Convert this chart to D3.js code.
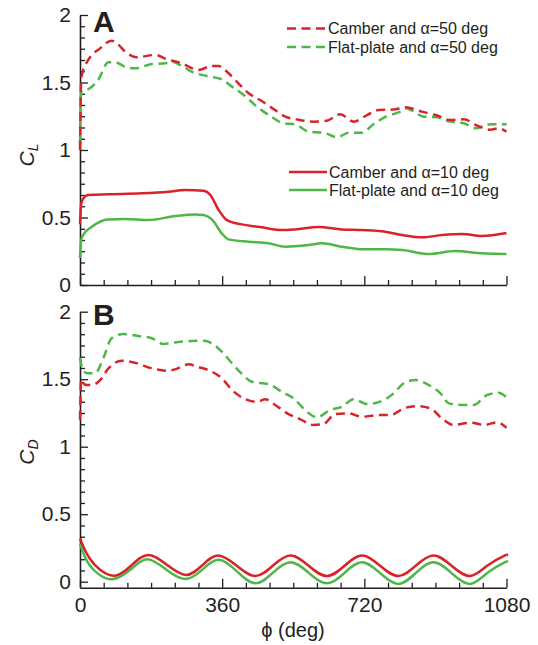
<!DOCTYPE html>
<html>
<head>
<meta charset="utf-8">
<script src="https://cdn.jsdelivr.net/npm/d3@7"></script>
<style>
  html, body { margin: 0; padding: 0; background: #fff; }
  svg { display: block; }
  text { font-family: "Liberation Sans", Arial, Helvetica, sans-serif; fill: #231f20; }
</style>
</head>
<body>
<svg id="chart" width="538" height="645"></svg>
<script>
// Lift coefficient, alpha = 50 deg (phi in deg, C_L)
const clCamber50 = [[0,1.0],[3,1.52],[6,1.57],[21,1.667],[51,1.753],[80,1.81],[93,1.79],[118,1.72],[144,1.687],[190,1.704],[220,1.672],[258,1.642],[300,1.593],[334,1.622],[351,1.622],[372,1.58],[401,1.494],[427,1.42],[456,1.37],[494,1.296],[520,1.247],[549,1.227],[591,1.21],[625,1.217],[659,1.264],[693,1.21],[727,1.259],[756,1.296],[794,1.30],[824,1.316],[866,1.284],[900,1.259],[938,1.222],[972,1.227],[1006,1.18],[1039,1.15],[1060,1.16],[1080,1.135]];
const clFlat50 = [[0,1.05],[2,1.38],[4,1.432],[25,1.457],[46,1.519],[72,1.65],[89,1.65],[114,1.617],[139,1.605],[182,1.637],[215,1.642],[232,1.654],[258,1.622],[283,1.58],[321,1.548],[359,1.524],[385,1.469],[418,1.40],[448,1.321],[482,1.252],[515,1.198],[545,1.19],[579,1.136],[617,1.128],[651,1.094],[680,1.128],[714,1.128],[744,1.193],[778,1.252],[811,1.284],[824,1.309],[841,1.291],[870,1.247],[904,1.242],[938,1.21],[972,1.198],[1001,1.161],[1039,1.19],[1080,1.19]];
// Lift coefficient, alpha = 10 deg
const clCamber10 = [[0,0.45],[3,0.6],[8,0.64],[21,0.667],[72,0.672],[156,0.679],[224,0.691],[266,0.704],[313,0.699],[330,0.667],[351,0.556],[372,0.481],[410,0.449],[461,0.427],[511,0.407],[545,0.412],[604,0.43],[663,0.412],[714,0.407],[773,0.395],[816,0.37],[866,0.353],[917,0.37],[968,0.378],[1018,0.363],[1080,0.385]];
const clFlat10 = [[0,0.2],[3,0.33],[8,0.37],[30,0.432],[72,0.486],[114,0.489],[173,0.481],[241,0.511],[292,0.523],[313,0.519],[334,0.486],[359,0.383],[376,0.338],[427,0.321],[477,0.309],[520,0.284],[579,0.296],[613,0.309],[663,0.284],[723,0.264],[773,0.264],[816,0.259],[883,0.23],[951,0.252],[1018,0.235],[1080,0.23]];
// Drag coefficient, alpha = 50 deg
const cdCamber50 = [[0,1.2],[3,1.5],[6,1.48],[17,1.457],[30,1.457],[51,1.494],[72,1.58],[106,1.637],[139,1.622],[182,1.58],[220,1.563],[241,1.573],[275,1.61],[296,1.593],[334,1.556],[359,1.507],[385,1.42],[418,1.353],[448,1.333],[469,1.351],[494,1.309],[528,1.242],[558,1.203],[591,1.161],[617,1.168],[646,1.242],[680,1.247],[714,1.222],[756,1.235],[786,1.235],[820,1.284],[854,1.301],[887,1.284],[921,1.198],[946,1.161],[989,1.178],[1023,1.161],[1056,1.181],[1080,1.141]];
const cdFlat50 = [[0,1.66],[4,1.6],[17,1.544],[38,1.544],[59,1.655],[80,1.803],[110,1.835],[148,1.82],[182,1.803],[211,1.761],[249,1.776],[283,1.783],[313,1.785],[334,1.766],[359,1.704],[385,1.618],[410,1.539],[435,1.481],[477,1.464],[511,1.407],[541,1.358],[570,1.272],[600,1.218],[634,1.272],[663,1.296],[693,1.351],[727,1.316],[765,1.339],[794,1.395],[820,1.47],[849,1.494],[883,1.457],[913,1.395],[934,1.321],[968,1.309],[997,1.309],[1031,1.383],[1060,1.40],[1080,1.366]];
// Drag coefficient, alpha = 10 deg
const cdCamber10 = [[0,0.32],[10,0.25],[25,0.17],[50,0.09],[89,0.045],[130,0.12],[172,0.198],[220,0.125],[268,0.05],[309,0.12],[350,0.194],[397,0.118],[444,0.042],[488,0.118],[533,0.194],[579,0.118],[625,0.042],[670,0.118],[714,0.194],[760,0.118],[806,0.042],[850,0.118],[895,0.194],[941,0.118],[987,0.042],[1031,0.118],[1075,0.194],[1080,0.193]];
const cdFlat10 = [[0,0.28],[10,0.2],[25,0.12],[50,0.05],[85,0.02],[128,0.09],[170,0.166],[218,0.09],[266,0.02],[310,0.09],[352,0.162],[398,0.075],[444,-0.012],[488,0.066],[533,0.144],[579,0.066],[625,-0.012],[670,0.066],[714,0.144],[760,0.064],[806,-0.016],[850,0.064],[895,0.144],[941,0.064],[987,-0.016],[1031,0.064],[1075,0.144],[1080,0.144]];

const xTicks = [0, 360, 720, 1080];
const xTickLabels = ["0", "360", "720", "1080"];
const xMinor = [60, 120, 180, 240, 300, 420, 480, 540, 600, 660, 780, 840, 900, 960, 1020];
const yTicks = [0, 0.5, 1, 1.5, 2];
const yTickLabels = ["0", "0.5", "1", "1.5", "2"];
const yMinor = d3.range(1, 24).filter(i => i % 6 !== 0).map(i => i / 12);

const legendTop = ["Camber and \u03b1=50 deg", "Flat-plate and \u03b1=50 deg"];
const legendBottom = ["Camber and \u03b1=10 deg", "Flat-plate and \u03b1=10 deg"];

const RED = "#d8232a", GREEN = "#4db848";
const DASH = "9,5.5";

const svg = d3.select("#chart");

const x = d3.scaleLinear().domain([0, 1080]).range([80, 506.5]);
const yA = d3.scaleLinear().domain([0, 2]).range([285, 15]);
const yB = d3.scaleLinear().domain([-0.045, 2]).range([587.8, 311.7]);

function drawAxes(y, showXLabels) {
  const g = svg.append("g");
  const x0 = y.range()[0];
  // minor ticks
  g.append("g").attr("transform", `translate(0,${x0})`)
    .call(d3.axisBottom(x).tickValues(xMinor).tickSize(-5).tickFormat(""))
    .call(s => s.select(".domain").remove());
  g.append("g").attr("transform", `translate(80,0)`)
    .call(d3.axisLeft(y).tickValues(yMinor).tickSize(-5).tickFormat(""))
    .call(s => s.select(".domain").remove());
  // major ticks
  g.append("g").attr("transform", `translate(0,${x0})`)
    .call(d3.axisBottom(x).tickValues(xTicks).tickSizeInner(-9).tickSizeOuter(0).tickPadding(9.5)
      .tickFormat((d, i) => showXLabels ? xTickLabels[i] : ""));
  g.append("g").attr("transform", `translate(80,0)`)
    .call(d3.axisLeft(y).tickValues(yTicks).tickSizeInner(-8).tickSizeOuter(0).tickPadding(9)
      .tickFormat((d, i) => yTickLabels[i]));
  g.selectAll("path.domain").attr("stroke", "#231f20").attr("stroke-width", 1.6);
  g.selectAll(".tick line").attr("stroke", "#231f20").attr("stroke-width", 1.3);
  g.selectAll(".tick text").style("font-size", "21px")
    .style("font-family", "'Liberation Sans', Arial, sans-serif").attr("fill", "#231f20");
}

function drawLine(data, y, color, dashed, curve) {
  const line = d3.line().x(d => x(d[0])).y(d => y(d[1])).curve(curve || d3.curveMonotoneX);
  svg.append("path").datum(data)
    .attr("d", line)
    .attr("fill", "none")
    .attr("stroke", color)
    .attr("stroke-width", 2.5)
    .attr("stroke-dasharray", dashed ? DASH : null);
}

drawAxes(yA, false);
drawAxes(yB, true);

drawLine(clFlat10, yA, GREEN, false);
drawLine(clCamber10, yA, RED, false);
drawLine(clFlat50, yA, GREEN, true);
drawLine(clCamber50, yA, RED, true);

// the periodic drag traces are drawn with a natural spline for a smooth wave
drawLine(cdFlat10, yB, GREEN, false, d3.curveNatural);
drawLine(cdCamber10, yB, RED, false, d3.curveNatural);
drawLine(cdFlat50, yB, GREEN, true);
drawLine(cdCamber50, yB, RED, true);

// panel letters
svg.append("text").attr("x", 93).attr("y", 32).text("A")
  .style("font-size", "30px").style("font-weight", "bold");
svg.append("text").attr("x", 93).attr("y", 325).text("B")
  .style("font-size", "30px").style("font-weight", "bold");

// legends
function legend(items, colors, dashed, lx0, lx1, tx, ys) {
  items.forEach((t, i) => {
    svg.append("line").attr("x1", lx0).attr("x2", lx1).attr("y1", ys[i]).attr("y2", ys[i])
      .attr("stroke", colors[i]).attr("stroke-width", 2.5)
      .attr("stroke-dasharray", dashed ? DASH : null);
    svg.append("text").attr("x", tx).attr("y", ys[i] + 5.8).text(t).style("font-size", "16px");
  });
}
legend(legendTop, [RED, GREEN], true, 287, 325, 328, [28.5, 47]);
legend(legendBottom, [RED, GREEN], false, 289, 327, 329, [172, 190]);

// axis titles
svg.append("text").attr("x", 293).attr("y", 637).attr("text-anchor", "middle")
  .style("font-size", "20px").text("\u03d5 (deg)");

function yTitle(cx, cy, sub) {
  const t = svg.append("text")
    .attr("transform", `translate(${cx},${cy}) rotate(-90)`)
    .attr("text-anchor", "middle")
    .style("font-size", "21px").style("font-style", "italic");
  t.append("tspan").text("C");
  t.append("tspan").attr("dy", 4).style("font-size", "14px").text(sub);
}
yTitle(34, 155, "L");
yTitle(34, 452, "D");
</script>
</body>
</html>
